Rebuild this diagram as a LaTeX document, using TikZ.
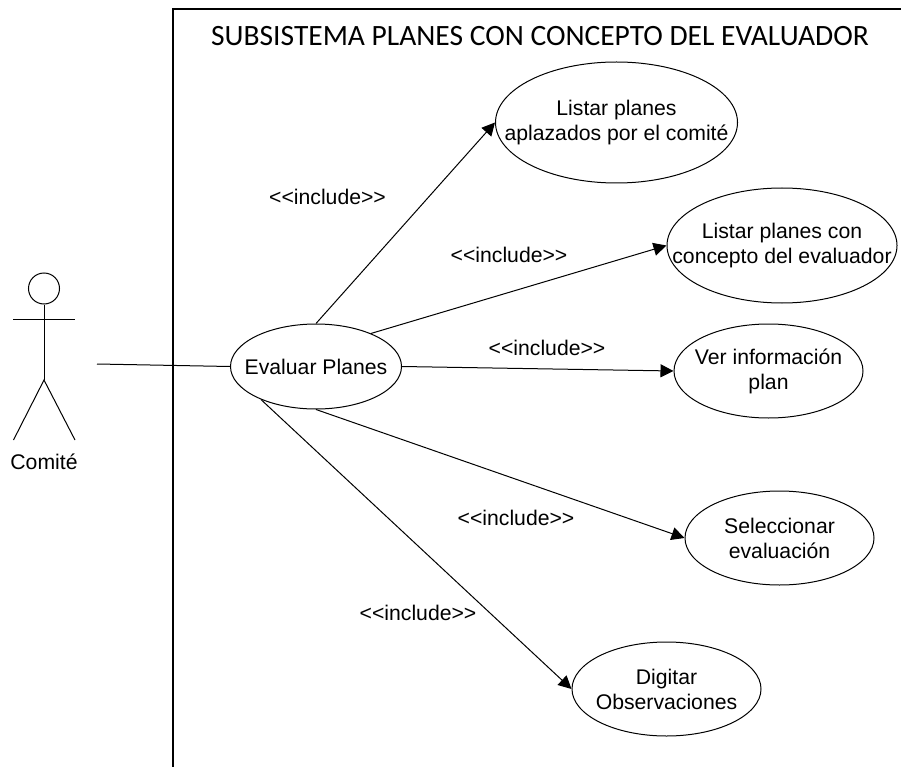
\documentclass[tikz,border=0pt]{standalone}
\usepackage{fontspec}
\setmainfont{Liberation Sans}
\newfontfamily\titlefont{Carlito}
\usetikzlibrary{arrows.meta, shapes.geometric}

\begin{document}
\begin{tikzpicture}[x=1pt, y=-1pt, line width=1pt, font=\fontsize{21.2}{25}\selectfont]
    % Define styles for use cases and include arrows
    \tikzset{usecase/.style={draw, ellipse, inner sep=-30pt, align=center}}
    \tikzset{include/.style={-{Triangle[length=13pt, width=13pt]}}}
    \useasboundingbox (0,0) rectangle (901,767);

    % SYSTEM BOUNDARY
    \coordinate (frame_right) at (901,9);
    \coordinate (frame_corner) at (173,9);
    \coordinate (frame_bottom) at (173,767);
    \draw[line width=2pt] (frame_right) -- (frame_corner) -- (frame_bottom);
    \node (title) at (540,36) {\titlefont\fontsize{29.5}{33}\selectfont SUBSISTEMA PLANES CON CONCEPTO DEL EVALUADOR};

    % ACTOR
    \node[draw, circle, minimum size=31pt, inner sep=0pt] (head) at (44,288.5) {};
    \coordinate (hip) at (44,380);
    \coordinate (arm_left) at (13,319);
    \coordinate (arm_right) at (75,319);
    \coordinate (foot_left) at (13.5,440);
    \coordinate (foot_right) at (75,440);
    \coordinate (actor_end) at (97,364);
    \draw (head) -- (hip);
    \draw (arm_left) -- (arm_right);
    \draw (foot_left) -- (hip) -- (foot_right);
    \node (comite) at (44,462) {Comité};

    % USE CASES
    \node[usecase, minimum width=171pt, minimum height=85pt] (evaluar) at (316,366.5) {Evaluar Planes};
    \node[usecase, minimum width=242pt, minimum height=121pt] (aplazados) at (616.5,122.5) {Listar planes\\aplazados por el comité};
    \node[usecase, minimum width=230pt, minimum height=115pt] (concepto) at (782,245.5) {Listar planes con\\concepto del evaluador};
    \node[usecase, minimum width=189pt, minimum height=94pt] (informacion) at (768.5,371) {Ver información\\plan};
    \node[usecase, minimum width=189pt, minimum height=94pt] (seleccionar) at (779.5,538) {Seleccionar\\evaluación};
    \node[usecase, minimum width=189pt, minimum height=94pt] (digitar) at (666.5,689) {Digitar\\Observaciones};

    % Lines
    \draw (actor_end) -- (evaluar.west);
    \draw[include] (evaluar.north) -- (aplazados.west);
    \draw[include] (evaluar.31) -- (concepto.west);
    \draw[include] (evaluar.east) -- (informacion.west);
    \draw[include] (evaluar.south) -- (seleccionar.west);
    \draw[include] (evaluar.211) -- (digitar.west);

    % Include labels
    \node (include_a) at (327.5,197) {<{}<include>{}>};
    \node (include_b) at (509,255) {<{}<include>{}>};
    \node (include_c) at (547,348) {<{}<include>{}>};
    \node (include_d) at (516,518) {<{}<include>{}>};
    \node (include_e) at (418,613) {<{}<include>{}>};
\end{tikzpicture}
\end{document}
